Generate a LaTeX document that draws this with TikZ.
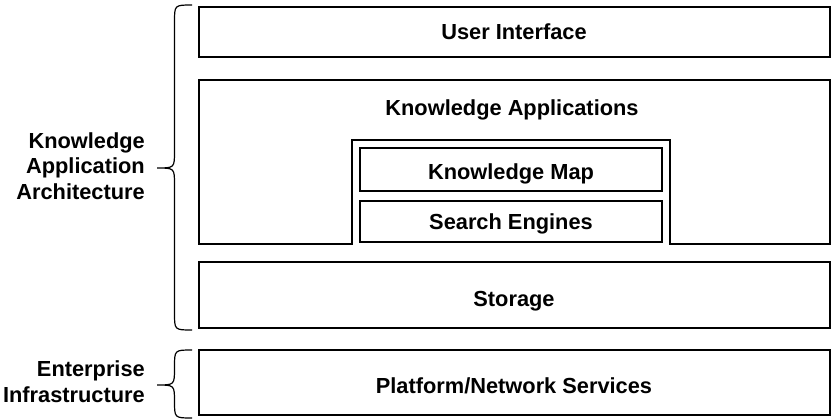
\documentclass[tikz,border=0pt]{standalone}
\usepackage{fontspec}
\setmainfont{Liberation Sans}
% curly brace opening to the right: #1 = x of the ends, #2 = top y,
% #3 = y of the tip, #4 = bottom y; the tip lies 35pt left of the ends
\newcommand\archbrace[4]{%
  \draw[curly] (#1,#2) .. controls (#1-17.5,#2) .. (#1-17.5,#2+17)
    -- (#1-17.5,#3-17) .. controls (#1-17.5,#3) .. (#1-35,#3)
    .. controls (#1-17.5,#3) .. (#1-17.5,#3+17)
    -- (#1-17.5,#4-17) .. controls (#1-17.5,#4) .. (#1,#4);}
\begin{document}
\begin{tikzpicture}[x=1pt,y=-1pt,
  every node/.style={font=\bfseries\fontsize{21.8}{25.5}\selectfont, inner sep=0pt},
  layer/.style={draw, line width=2.3pt, minimum width=631pt, anchor=center},
  inner/.style={draw, line width=2.3pt, minimum width=302pt, anchor=center},
  outline/.style={draw, line width=2.3pt},
  caption/.style={anchor=base},
  curly/.style={line width=1.2pt},
  side/.style={align=right, anchor=base east}]
\useasboundingbox (0,0) rectangle (832,420);

% layers of the architecture
\node[layer, minimum height=50pt] (ui) at (514.5,32) {};
\node[caption] (uit) at (514,40) {User Interface};
\draw[outline] (199,80) -- (830,80) -- (830,244) -- (670,244) -- (670,140)
  -- (352,140) -- (352,244) -- (199,244) -- cycle;
\node[caption] (ka) at (512,115) {Knowledge Applications};
\node[inner, minimum height=43pt] (kmap) at (511,169.5) {};
\node[caption] (kmapt) at (511,179) {Knowledge Map};
\node[inner, minimum height=41pt] (search) at (511,221.5) {};
\node[caption] (searcht) at (511,229) {Search Engines};
\node[layer, minimum height=66pt] (storage) at (514.5,295) {};
\node[caption] (storaget) at (514,306) {Storage};
\node[layer, minimum height=65pt] (platform) at (514.5,382.5) {};
\node[caption] (platformt) at (514,393) {Platform/Network Services};

% braces and their labels
\archbrace{192}{5}{168}{330}
\archbrace{192}{350}{385}{418}
\node[side] (kaa) at (145,199) {Knowledge\\Application\\Architecture};
\node[side] (ei) at (145,402) {Enterprise\\Infrastructure};
\end{tikzpicture}
\end{document}
